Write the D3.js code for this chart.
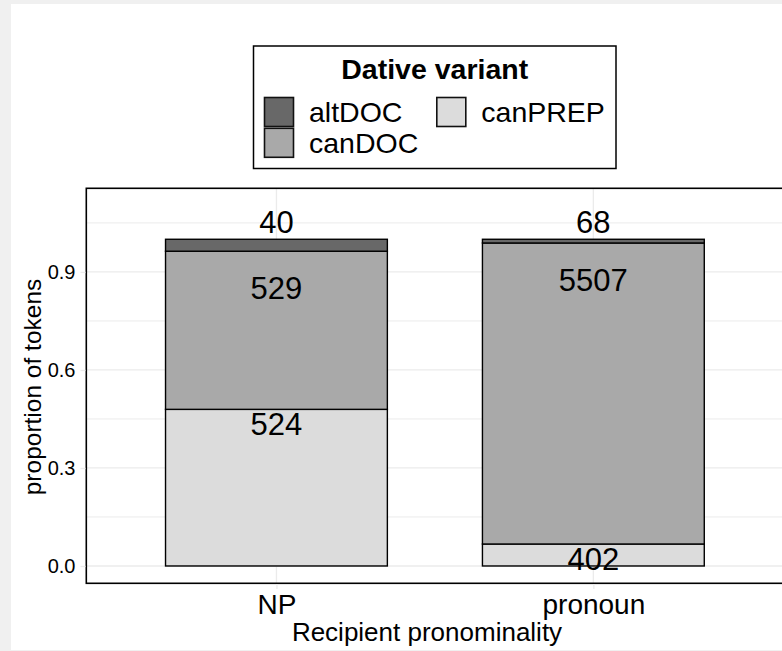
<!DOCTYPE html>
<html>
<head>
<meta charset="utf-8">
<script src="https://cdn.jsdelivr.net/npm/d3@7"></script>
<style>
  html, body { margin: 0; padding: 0; background: #f0f0f0; }
  svg { display: block; }
  text { font-family: "Liberation Sans", Arial, Helvetica, sans-serif; fill: #000; }
</style>
</head>
<body>
<svg id="chart" width="782" height="651"></svg>
<script>
// ---- data ----
const categories = ["NP", "pronoun"];
const variants = ["altDOC", "canDOC", "canPREP"];          // legend order
const stackOrder = ["canPREP", "canDOC", "altDOC"];        // bottom -> top
const altDOC = [40, 68];
const canDOC = [529, 5507];
const canPREP = [524, 402];
const yTicks = [0, 0.3, 0.6, 0.9];
const yMinorTicks = [0.15, 0.45, 0.75, 1.05];
const yTickLabels = ["0.0", "0.3", "0.6", "0.9"];
const legendTitle = "Dative variant";
const xTitle = "Recipient pronominality";
const yTitle = "proportion of tokens";

// ---- style ----
const fills = { altDOC: "#686868", canDOC: "#a9a9a9", canPREP: "#dcdcdc" };
const labelOffset = { altDOC: 0.02, canDOC: -0.146, canPREP: -0.08 }; // baseline offset from segment top
const gridColor = "#ebebeb";

const seriesValues = { altDOC, canDOC, canPREP };
const rows = categories.map((c, i) => {
  const r = { category: c };
  variants.forEach(v => r[v] = seriesValues[v][i]);
  r.total = variants.reduce((s, v) => s + r[v], 0);
  variants.forEach(v => r[v + "_p"] = r[v] / r.total);
  return r;
});

const stack = d3.stack().keys(stackOrder.map(v => v + "_p"));
const stacked = stack(rows);

const svg = d3.select("#chart");

// white plot background
svg.append("rect").attr("x", 11).attr("y", 4).attr("width", 771).attr("height", 646).attr("fill", "#fff");

const panel = { left: 86.3, right: 783.5, top: 188.3, bottom: 583.3 };

const x = d3.scalePoint().domain(categories).range([panel.left, panel.right]).padding(0.6);
const barW = x.step() * 0.7;
const y = d3.scaleLinear().domain([-0.053, 1.156]).range([panel.bottom, panel.top]);

svg.append("defs").append("clipPath").attr("id", "pclip")
  .append("rect").attr("x", panel.left).attr("y", panel.top)
  .attr("width", panel.right - panel.left).attr("height", panel.bottom - panel.top);

const g = svg.append("g").attr("clip-path", "url(#pclip)");

// grid
g.selectAll(".minor").data(yMinorTicks).join("line")
  .attr("x1", panel.left).attr("x2", panel.right)
  .attr("y1", d => y(d)).attr("y2", d => y(d))
  .attr("stroke", gridColor).attr("stroke-width", 1);
g.selectAll(".major").data(yTicks).join("line")
  .attr("x1", panel.left).attr("x2", panel.right)
  .attr("y1", d => y(d)).attr("y2", d => y(d))
  .attr("stroke", gridColor).attr("stroke-width", 1.3);
g.selectAll(".vmajor").data(categories).join("line")
  .attr("x1", d => x(d)).attr("x2", d => x(d))
  .attr("y1", panel.top).attr("y2", panel.bottom)
  .attr("stroke", gridColor).attr("stroke-width", 1.3);

// bars
stacked.forEach(layer => {
  const v = layer.key.replace("_p", "");
  g.selectAll(".bar-" + v).data(layer).join("rect")
    .attr("x", d => x(d.data.category) - barW / 2)
    .attr("width", barW)
    .attr("y", d => y(d[1]))
    .attr("height", d => y(d[0]) - y(d[1]))
    .attr("fill", fills[v])
    .attr("stroke", "#000").attr("stroke-width", 1.4);
});

// labels
stacked.forEach(layer => {
  const v = layer.key.replace("_p", "");
  svg.selectAll(".lab-" + v).data(layer).join("text")
    .attr("x", d => x(d.data.category))
    .attr("y", d => y(d[1] + labelOffset[v]))
    .attr("text-anchor", "middle")
    .attr("font-size", 31)
    .text(d => d.data[v]);
});

// panel border
svg.append("rect").attr("x", panel.left).attr("y", panel.top)
  .attr("width", panel.right - panel.left).attr("height", panel.bottom - panel.top)
  .attr("fill", "none").attr("stroke", "#000").attr("stroke-width", 1.6);

// axes ticks (light gray) and labels
const yAxis = d3.axisLeft(y).tickValues(yTicks).tickSize(5).tickPadding(5)
  .tickFormat((d, i) => yTickLabels[i]);
const yg = svg.append("g").attr("transform", `translate(${panel.left - 0.8},0)`).call(yAxis);
yg.select(".domain").remove();
yg.selectAll(".tick line").attr("stroke", gridColor).attr("stroke-width", 1.3);
yg.selectAll(".tick text").attr("font-size", 20).attr("fill", "#000")
  .attr("font-family", "Liberation Sans, Arial, sans-serif");

const xAxis = d3.axisBottom(x).tickSize(5).tickPadding(2);
const xg = svg.append("g").attr("transform", `translate(0,${panel.bottom + 0.8})`).call(xAxis);
xg.select(".domain").remove();
xg.selectAll(".tick line").attr("stroke", gridColor).attr("stroke-width", 1.3);
xg.selectAll(".tick text").attr("font-size", 28).attr("fill", "#000")
  .attr("font-family", "Liberation Sans, Arial, sans-serif")
  .attr("dy", null).attr("y", 29.5);

// axis titles
svg.append("text").attr("x", 427).attr("y", 641)
  .attr("text-anchor", "middle").attr("font-size", 26).text(xTitle);
svg.append("text").attr("transform", `translate(41,387) rotate(-90)`)
  .attr("text-anchor", "middle").attr("font-size", 24.5).text(yTitle);

// legend
const lg = svg.append("g");
lg.append("rect").attr("x", 253.5).attr("y", 46).attr("width", 362.5).attr("height", 122.5)
  .attr("fill", "#fff").attr("stroke", "#000").attr("stroke-width", 1.5);
lg.append("text").attr("x", 434.7).attr("y", 79.3).attr("text-anchor", "middle")
  .attr("font-size", 28.5).attr("font-weight", "bold").text(legendTitle);
const colX = [264.5, 436.8];
const rowY = [97.5, 128.3];
const items = lg.selectAll(".item").data(variants).join("g")
  .attr("transform", (d, i) => `translate(${colX[Math.floor(i / 2)]},${rowY[i % 2]})`);
items.append("rect").attr("width", 29).attr("height", 29)
  .attr("fill", d => fills[d]).attr("stroke", "#111").attr("stroke-width", 1.6);
items.append("text").attr("x", 44.5).attr("y", 24.3).attr("font-size", 28.5).text(d => d);
</script>
</body>
</html>
